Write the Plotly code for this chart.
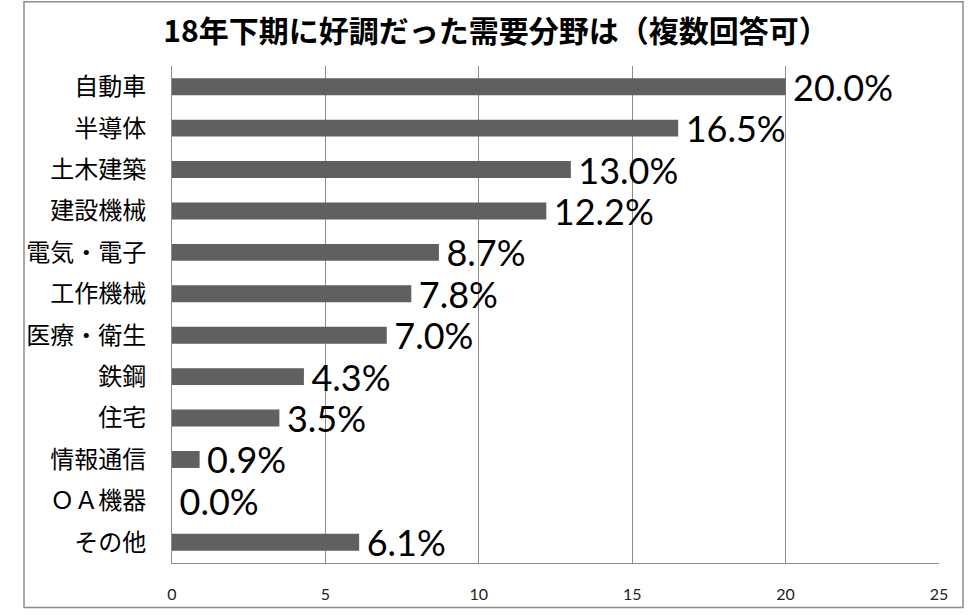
import plotly.graph_objects as go

categories = ["自動車", "半導体", "土木建築", "建設機械", "電気・電子", "工作機械",
              "医療・衛生", "鉄鋼", "住宅", "情報通信", "ＯＡ機器", "その他"]
values = [20.0, 16.5, 13.0, 12.2, 8.7, 7.8, 7.0, 4.3, 3.5, 0.9, 0.0, 6.1]
x_ticks = [0, 5, 10, 15, 20, 25]
title_text = "18年下期に好調だった需要分野は（複数回答可）"

W, H = 970, 615
L, R, T, B = 172, 31, 66, 47
pw, ph = W - L - R, H - T - B

fig = go.Figure(go.Bar(
    y=categories, x=values, orientation="h",
    marker=dict(color="#606060", line=dict(width=0)),
    texttemplate="\u2009%{x:.1f}%", textposition="outside", constraintext="none",
    cliponaxis=False,
    textfont=dict(family="Lato, Open Sans, sans-serif", size=36, color="#000000"),
))

fig.update_layout(
    width=W, height=H, margin=dict(l=L, r=R, t=T, b=B),
    paper_bgcolor="white", plot_bgcolor="white",
    bargap=0.59, showlegend=False,
    title=dict(text=title_text, x=496 / W, xanchor="center", y=1 - 31 / H, yanchor="middle",
               font=dict(family="Noto Sans CJK JP", size=30, color="#000000", weight="bold")),
    xaxis=dict(range=[0, 25], tickvals=x_ticks, showgrid=True, gridcolor="#8c8c8c", gridwidth=1,
               showline=True, linecolor="#8c8c8c", linewidth=1, zeroline=False,
               ticks="", ticklabelstandoff=17,
               tickfont=dict(family="Lato, Open Sans, sans-serif", size=16, color="#222222")),
    yaxis=dict(autorange="reversed", showline=True, linecolor="#8c8c8c", linewidth=1,
               showgrid=False, ticks="", ticklabelstandoff=20,
               tickfont=dict(family="Noto Sans CJK JP", size=24, color="#000000")),
    shapes=[dict(type="rect", xref="paper", yref="paper",
                 x0=(24 - L) / pw, x1=(963 - L) / pw,
                 y0=(H - B - 613) / ph, y1=(H - B - 1) / ph,
                 line=dict(color="#8c8c8c", width=1.5), fillcolor="rgba(0,0,0,0)", layer="below")],
)

fig.write_html("out.html", config={"displayModeBar": False},
               post_script="document.body.style.margin='0';")
